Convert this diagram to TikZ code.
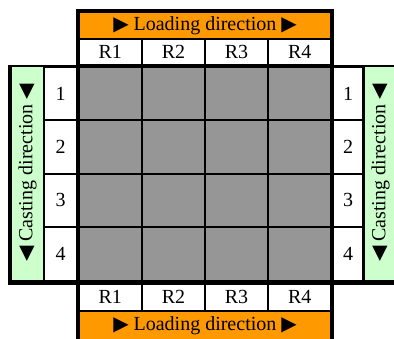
\documentclass[tikz,border=0pt]{standalone}
\usepackage{fontspec}
\setmainfont{Liberation Serif}
\newfontfamily\symfont{DejaVu Sans}
\newcommand{\rtri}{{\symfont\char"25B6}}
\newcommand{\ltri}{{\symfont\char"25C0}}
\definecolor{bandorange}{HTML}{FF9900}
\definecolor{colgreen}{HTML}{CCFFCC}
\definecolor{cellgray}{HTML}{969696}
\tikzset{
  base/.style={inner sep=0pt, outer sep=0pt, font=\fontsize{20}{23}\selectfont},
  band/.style={base, fill=bandorange, minimum width=250pt},
  rcell/.style={base, fill=white, minimum width=60.625pt},
  gcell/.style={base, fill=cellgray, minimum width=60.625pt, minimum height=51.375pt},
  ncell/.style={base, fill=white, minimum height=51.375pt},
  gcol/.style={base, fill=colgreen, rotate=90, minimum width=213pt, minimum height=31pt},
  frame/.style={fill=black}
}
\begin{document}
\begin{tikzpicture}[x=1pt,y=-1pt]
\useasboundingbox (0,0) rectangle (394,338);
\clip (0,0) rectangle (394,338);
% black frames
\fill[frame] (76,9) rectangle (334,68);
\fill[frame] (8,64.5) rectangle (400,285);
\fill[frame] (76,281) rectangle (334,345);
% orange bands
\node[band, minimum height=25.3pt] (loadtop) at (205,25.65) {\rtri\ Loading direction \rtri};
\node[band, minimum height=28.5pt] (loadbot) at (205,325.75) {\rtri\ Loading direction \rtri};
% green columns
\node[gcol] (castl) at (27.5,173) {\ltri\ Casting direction \ltri};
\node[gcol] (castr) at (380.5,173) {\ltri\ Casting direction \ltri};
% R labels and grid
\foreach \i/\lab in {0/R1,1/R2,2/R3,3/R4} {
  \pgfmathsetmacro\cx{110.3125+\i*63.125}
  \node[rcell, minimum height=24pt] (rt\i) at (\cx,52) {\lab};
  \node[rcell, minimum height=24.5pt] (rb\i) at (\cx,297.25) {\lab};
  \foreach \j in {0,1,2,3} {
    \pgfmathsetmacro\cy{93.6875+\j*53.375}
    \node[gcell] (g\i\j) at (\cx,\cy) {};
  }
}
% row numbers
\foreach \j/\n in {0/1,1/2,2/3,3/4} {
  \pgfmathsetmacro\cy{93.6875+\j*53.375}
  \node[ncell, minimum width=31pt] (nl\j) at (60.5,\cy) {\n};
  \node[ncell, minimum width=28pt] (nr\j) at (348,\cy) {\n};
}
\end{tikzpicture}
\end{document}
